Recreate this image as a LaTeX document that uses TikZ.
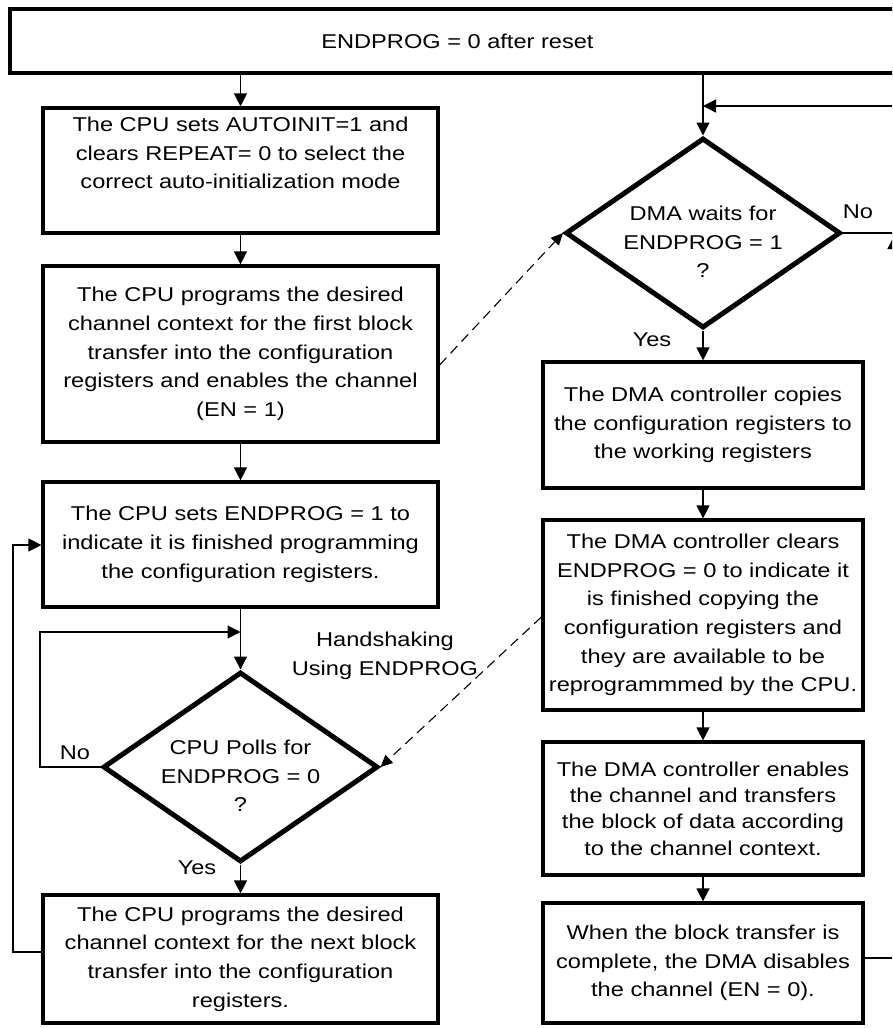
\documentclass[tikz,border=0pt]{standalone}
\usepackage{fontspec}
\setmainfont{Liberation Sans}[FakeStretch=1.18]
\usetikzlibrary{shapes.geometric,arrows.meta}
\begin{document}
\begin{tikzpicture}[x=1pt,y=-1pt,
  every node/.style={font=\fontsize{20}{28.7}\selectfont},
  box/.style={draw, line width=3.2pt, align=center, inner sep=0pt},
  decision/.style={draw, diamond, line width=5pt, inner sep=0pt,
    minimum width=275pt, minimum height=190pt},
  txt/.style={align=center, inner sep=0pt},
  flow/.style={line width=1.3pt, -{Triangle[width=13pt,length=13pt]}},
  plain/.style={line width=1.3pt},
  shake/.style={line width=1.1pt, dash pattern=on 10pt off 6pt,
    -{Triangle[width=11pt,length=12pt]}}]
\useasboundingbox (0,0) rectangle (892,1028);
\clip (0,0) rectangle (892,1028);

% start box
\node[box, minimum width=895, minimum height=64] (start) at (457.5,41) {ENDPROG = 0 after reset};

% CPU side
\node[box, minimum width=395, minimum height=125] (b1) at (240.5,170.5) {};
\node[txt] (b1t) at (240.5,153)
  {The CPU sets AUTOINIT=1 and\\clears REPEAT= 0 to select the\\correct auto-initialization mode};
\node[box, minimum width=395, minimum height=176] (b2) at (240.5,354)
  {The CPU programs the desired\\channel context for the first block\\transfer into the configuration\\registers and enables the channel\\(EN = 1)};
\node[box, minimum width=395, minimum height=125] (b3) at (240.5,544.5)
  {The CPU sets ENDPROG = 1 to\\indicate it is finished programming\\the configuration registers.};
\node[decision] (d2) at (240.5,767) {};
\node[txt] (d2t) at (240.5,776) {CPU Polls for\\ENDPROG = 0\\?};
\node[box, minimum width=395, minimum height=128] (b5) at (240.5,959)
  {The CPU programs the desired\\channel context for the next block\\transfer into the configuration\\registers.};

% DMA side
\node[decision] (d1) at (703,233) {};
\node[txt] (d1t) at (703,242) {DMA waits for\\ENDPROG = 1\\?};
\node[box, minimum width=320, minimum height=126] (r1) at (703,425)
  {The DMA controller copies\\the configuration registers to\\the working registers};
\node[box, minimum width=320, minimum height=190] (r2) at (703,615)
  {The DMA controller clears\\ENDPROG = 0 to indicate it\\is finished copying the\\configuration registers and\\they are available to be\\reprogrammmed by the CPU.};
\node[box, minimum width=320, minimum height=133,
  font=\fontsize{20}{26.3}\selectfont] (r3) at (703,808.5)
  {The DMA controller enables\\the channel and transfers\\the block of data according\\to the channel context.};
\node[box, minimum width=320, minimum height=120] (r4) at (703,963)
  {When the block transfer is\\complete, the DMA disables\\the channel (EN = 0).};

% labels
\node[txt] (no2) at (75,753) {No};
\node[txt] (yes2) at (197,868) {Yes};
\node[txt] (no1) at (858,212) {No};
\node[txt] (yes1) at (652,340) {Yes};
\node[txt] (hs) at (385,656) {Handshaking\\Using ENDPROG};

% CPU flow
\draw[flow] (start.south -| b1.north) -- (b1.north);
\draw[flow] (b1.south) -- (b2.north);
\draw[flow] (b2.south) -- (b3.north);
\draw[flow] (b3.south) -- (d2.north);
\draw[flow] (d2.south) -- (b5.north);
\coordinate (pollin) at (240.5,632);
\draw[flow] (d2.west) -- (40,767) -- (40,632) -- (pollin);
\coordinate (nextin) at (43,545);
\draw[flow] ([yshift=7pt]b5.west) -- (13,952) -- (13,545) -- (b3.west |- nextin);

% DMA flow
\draw[flow] (start.south -| d1.north) -- (d1.north);
\draw[flow] (d1.south) -- (r1.north);
\draw[flow] (r1.south) -- (r2.north);
\draw[flow] (r2.south) -- (r3.north);
\draw[flow] (r3.south) -- (r4.north);
\coordinate (loopin) at (703,106);
\coordinate (rloop) at (894,958);
\draw[flow] ([yshift=5pt]r4.east) -- (rloop) -- (894,106) -- (loopin);
\draw[flow] (rloop) -- (894,236);
\draw[plain] (d1.east) -- (894,233);

% handshaking
\draw[shake] ([yshift=-11pt]b2.east) -- (d1.west);
\draw[shake] ([yshift=-2pt]r2.west) -- (d2.east);
\end{tikzpicture}
\end{document}
